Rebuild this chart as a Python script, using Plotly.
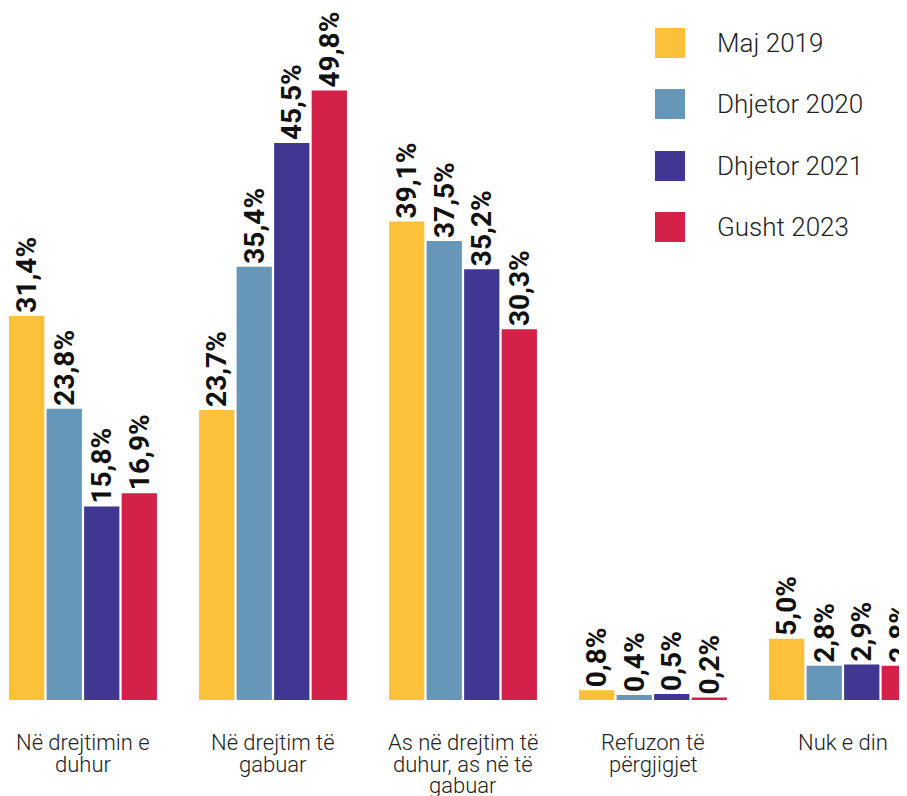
import plotly.graph_objects as go

categories = ["Në drejtimin e duhur", "Në drejtim të gabuar",
              "As në drejtim të duhur, as në të gabuar",
              "Refuzon të përgjigjet", "Nuk e din"]
label_lines = [["Në drejtimin e", "duhur"], ["Në drejtim të", "gabuar"],
               ["As në drejtim të", "duhur, as në të", "gabuar"],
               ["Refuzon të", "përgjigjet"], ["Nuk e din"]]
series_names = ["Maj 2019", "Dhjetor 2020", "Dhjetor 2021", "Gusht 2023"]
maj_2019 = [31.4, 23.7, 39.1, 0.8, 5.0]
dhjetor_2020 = [23.8, 35.4, 37.5, 0.4, 2.8]
dhjetor_2021 = [15.8, 45.5, 35.2, 0.5, 2.9]
gusht_2023 = [16.9, 49.8, 30.3, 0.2, 2.8]
colors = ["#FCC138", "#6797B8", "#3F3792", "#D42149"]

values = [maj_2019, dhjetor_2020, dhjetor_2021, gusht_2023]

FW, FH = 899, 788        # figure size (page adds an 8px body margin)
PH = 692                 # plot-area height in px
fig = go.Figure()
for name, vals, col in zip(series_names, values, colors):
    fig.add_trace(go.Bar(
        x=categories, y=vals, name=name, marker_color=col,
        marker_line_width=0,
        text=[f"{v:.1f}%".replace(".", ",") for v in vals],
        textposition="outside", textangle=-90, cliponaxis=False,
        constraintext="none",
        textfont=dict(family="Roboto", size=28, color="#111111", weight="bold"),
        showlegend=False,
    ))

# manual legend with large square swatches
legend_top = [20, 81, 143, 204]
for name, col, top in zip(series_names, colors, legend_top):
    fig.add_shape(type="rect", xref="paper", yref="paper",
                  x0=647 / FW, x1=677 / FW, y0=(PH - top - 30) / PH, y1=(PH - top) / PH,
                  fillcolor=col, line_width=0)
    fig.add_annotation(xref="paper", yref="paper", x=707 / FW, y=(PH - top - 15) / PH,
                       text=name, showarrow=False, xanchor="left", yanchor="middle",
                       font=dict(family="Roboto", size=26, color="#222222", weight=300))

# category labels, one annotation per line for tight line spacing
line_mid = [734, 756, 778]
for cat, lines in zip(categories, label_lines):
    for i, ln in enumerate(lines):
        fig.add_annotation(xref="x", yref="paper", x=cat, y=(PH - line_mid[i]) / PH,
                           text=ln, showarrow=False, xanchor="center", yanchor="middle",
                           font=dict(family="Roboto", size=22, color="#222222", weight=300))

r0 = -75 / 190
fig.update_layout(
    width=FW, height=FH,
    margin=dict(l=0, r=0, t=0, b=FH - PH),
    paper_bgcolor="white", plot_bgcolor="white",
    barmode="group", bargap=0.21, bargroupgap=0.06,
    xaxis=dict(range=[r0, r0 + FW / 190], showgrid=False, zeroline=False, showline=False,
               showticklabels=False, ticks=""),
    yaxis=dict(range=[0, PH / 12.24], visible=False),
)
fig.write_html("out.html")
